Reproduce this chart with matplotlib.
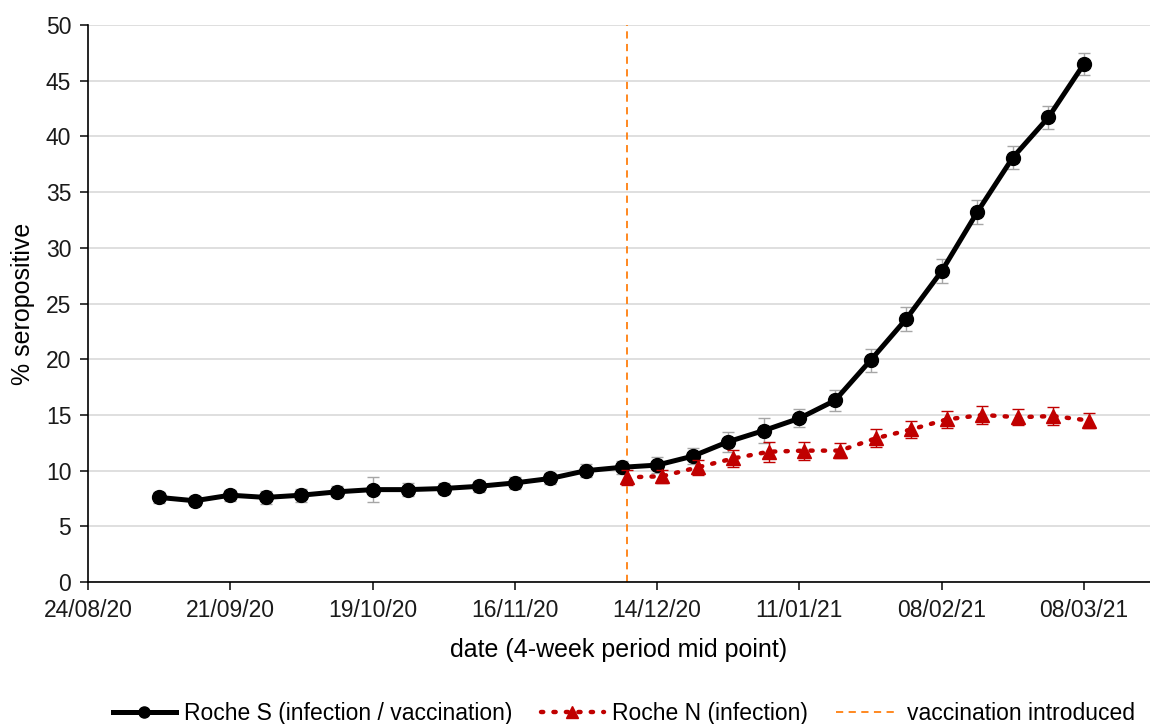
import matplotlib.pyplot as plt
import matplotlib.dates as mdates
from matplotlib.lines import Line2D
import numpy as np
import pandas as pd

plt.rcParams['font.family'] = ['Liberation Sans', 'DejaVu Sans']

# Roche S, weekly from 07/09/20
s_dates = pd.date_range('2020-09-07', '2021-03-08', freq='7D')
s_vals = [7.6, 7.3, 7.8, 7.6, 7.8, 8.1, 8.3, 8.3, 8.4, 8.6, 8.9, 9.3, 10.0, 10.3,
          10.5, 11.3, 12.6, 13.6, 14.7, 16.3, 19.9, 23.6, 27.9, 33.2, 38.1, 41.7, 46.5]
s_err = [0.5, 0.4, 0.5, 0.6, 0.6, 0.5, 1.1, 0.6, 0.5, 0.5, 0.5, 0.5, 0.6, 0.6,
         0.7, 0.7, 0.9, 1.1, 0.8, 0.9, 1.0, 1.1, 1.1, 1.1, 1.0, 1.0, 1.0]

# Roche N, weekly from 08/12/20
n_dates = pd.date_range('2020-12-08', '2021-03-09', freq='7D')
n_vals = [9.4, 9.5, 10.3, 11.1, 11.7, 11.8, 11.8, 12.9, 13.7, 14.6, 15.0, 14.8, 14.9, 14.5]
n_err = [0.7, 0.6, 0.7, 0.8, 0.9, 0.8, 0.7, 0.8, 0.8, 0.8, 0.8, 0.7, 0.8, 0.7]

vacc_date = pd.Timestamp('2020-12-08')
tick_dates = pd.date_range('2020-08-24', '2021-03-08', freq='28D')

fig = plt.figure(figsize=(11.5, 7.24), dpi=100)
ax = fig.add_axes([0.0765, 0.196, 0.9235, 0.7695])

red = '#c00000'
orange = '#ff7f0e'
s_style = dict(color='black', lw=3.6, marker='o', ms=10)
n_style = dict(color=red, lw=3.2, ls=(0, (0.5, 2.3)), dash_capstyle='round',
               marker='^', ms=10)

ax.errorbar(s_dates, s_vals, yerr=s_err, ecolor='#a6a6a6', elinewidth=1,
            capsize=4, capthick=1, zorder=3, **s_style)
ax.errorbar(n_dates, n_vals, yerr=n_err, ecolor=red, elinewidth=1,
            capsize=4, capthick=1, zorder=4, **n_style)
ax.axvline(vacc_date, color=orange, lw=1.3, ls=(0, (4, 3)), zorder=2)

ax.set_ylim(0, 50)
ax.set_yticks(np.arange(0, 51, 5))
ax.set_xlim(pd.Timestamp('2020-08-24'), pd.Timestamp('2021-03-21'))
ax.set_xticks(tick_dates)
ax.xaxis.set_major_formatter(mdates.DateFormatter('%d/%m/%y'))
ax.grid(axis='y', color='#d9d9d9', lw=1.2)
ax.set_axisbelow(True)
for sp in ['top', 'right']:
    ax.spines[sp].set_visible(False)
for sp in ['left', 'bottom']:
    ax.spines[sp].set_linewidth(1.2)
ax.tick_params(labelsize=16.5, length=6, width=1.2, colors='#1a1a1a')
ax.tick_params(axis='y', pad=6)
ax.tick_params(axis='x', pad=6)

ax.set_xlabel('date (4-week period mid point)', fontsize=18, labelpad=12)
ax.set_ylabel('% seropositive', fontsize=18, labelpad=8)

leg_s = dict(s_style, ms=8)
leg_n = dict(n_style, ms=8)
handles = [Line2D([], [], markevery=[1], **leg_s),
           Line2D([], [], markevery=[1], **leg_n),
           Line2D([], [], color=orange, lw=1.3, ls=(0, (4, 3)))]
labels = ['Roche S (infection / vaccination)', 'Roche N (infection)',
          'vaccination introduced']
for h in handles:
    h.set_data([0, 0.5, 1], [0, 0, 0])
fig.legend(handles, labels, loc='lower center', bbox_to_anchor=(0.5426, -0.03),
           ncol=3, frameon=False, fontsize=16.5, handlelength=2.75,
           columnspacing=1.25, handletextpad=0.35)

fig.savefig('out.png', dpi=100)
